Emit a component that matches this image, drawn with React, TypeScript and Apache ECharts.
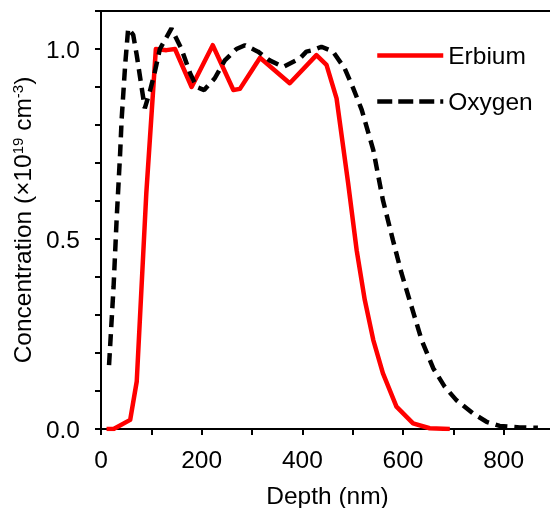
import React, { useEffect, useRef } from "react";
import * as echarts from "echarts";

const erbiumDepth = [11, 25, 58, 71, 90, 109, 130, 147, 180, 222, 263, 276, 316, 375, 428, 448, 468, 491, 508, 524, 541, 560, 587, 620, 653, 693];
const erbiumConc = [0, 0, 0.024, 0.125, 0.62, 1.0, 0.997, 1.0, 0.9, 1.01, 0.892, 0.895, 0.977, 0.91, 0.984, 0.958, 0.87, 0.647, 0.47, 0.34, 0.234, 0.147, 0.059, 0.015, 0.002, 0];

const oxygenDepth = [16, 25, 31, 38, 41, 48, 54, 64, 71, 87, 97, 107, 117, 140, 160, 177, 190, 205, 226, 246, 269, 286, 312, 335, 362, 395, 408, 421, 438, 461, 484, 501, 518, 541, 560, 580, 597, 617, 637, 660, 683, 706, 739, 766, 792, 832, 868];
const oxygenConc = [0.168, 0.375, 0.55, 0.725, 0.815, 0.958, 1.054, 1.037, 0.984, 0.844, 0.888, 0.94, 1.0, 1.054, 1.0, 0.936, 0.9, 0.892, 0.923, 0.97, 1.0, 1.01, 0.993, 0.97, 0.953, 0.975, 0.993, 0.997, 1.006, 0.993, 0.949, 0.897, 0.84, 0.734, 0.603, 0.497, 0.41, 0.322, 0.234, 0.16, 0.111, 0.076, 0.041, 0.019, 0.008, 0.004, 0.003];

const seriesNames = ["Erbium", "Oxygen"];
const xTitle = "Depth (nm)";
const yTitle = "Concentration (×10{sup|19} cm{sup|-3})";

const FONT = "'Liberation Sans', Arial, sans-serif";

export default function App() {
  const ref = useRef<HTMLDivElement>(null);
  useEffect(() => {
    if (!ref.current) return;
    const chart = echarts.init(ref.current, null, { renderer: "svg" });
    const zip = (xs: number[], ys: number[]) => xs.map((x, i) => [x, ys[i]]);
    chart.setOption({
      animation: false,
      textStyle: { fontFamily: FONT },
      grid: {
        left: 101,
        top: 11,
        right: -4,
        bottom: 79,
        outerBoundsMode: "none",
        containLabel: false,
        show: true,
        borderColor: "#000",
        borderWidth: 2,
      },
      legend: {
        orient: "vertical",
        left: 370,
        top: 38,
        itemWidth: 66,
        itemHeight: 14,
        itemGap: 21,
        itemStyle: { opacity: 0 },
        lineStyle: { width: 4.5 },
        textStyle: { fontSize: 24.5, color: "#000", fontFamily: FONT, lineHeight: 24 },
        data: [
          { name: seriesNames[0] },
          { name: seriesNames[1], lineStyle: { width: 4.5, type: [15, 6] } },
        ],
      },
      xAxis: {
        type: "value",
        min: 0,
        max: 900,
        interval: 100,
        name: xTitle,
        nameLocation: "middle",
        nameGap: 54,
        nameTextStyle: { fontSize: 24.5, color: "#000", fontFamily: FONT },
        axisLine: { lineStyle: { color: "#000", width: 2 } },
        axisTick: { length: 6, lineStyle: { color: "#000", width: 2 } },
        axisLabel: {
          fontSize: 24.5,
          color: "#000",
          fontFamily: FONT,
          margin: 18,
          formatter: (v: number) => (Math.round(v) % 200 === 0 ? String(Math.round(v)) : ""),
        },
        splitLine: { show: false },
      },
      yAxis: {
        type: "value",
        min: 0,
        max: 1.1,
        interval: 0.1,
        name: yTitle,
        nameLocation: "middle",
        nameGap: 60,
        nameTextStyle: {
          fontSize: 24.5,
          color: "#000",
          fontFamily: FONT,
          rich: {
            sup: { fontSize: 15, verticalAlign: "top", color: "#000", fontFamily: FONT, padding: [0, 0, 10, 0] },
          },
        },
        axisLine: { show: true, lineStyle: { color: "#000", width: 2 } },
        axisTick: { show: true, length: 6, lineStyle: { color: "#000", width: 2 } },
        axisLabel: {
          fontSize: 24.5,
          color: "#000",
          fontFamily: FONT,
          margin: 21,
          formatter: (v: number) => {
            const r = Math.round(v * 10);
            return r % 5 === 0 ? (r / 10).toFixed(1) : "";
          },
        },
        splitLine: { show: false },
      },
      series: [
        {
          name: seriesNames[0],
          type: "line",
          data: zip(erbiumDepth, erbiumConc),
          showSymbol: false,
          symbol: "none",
          lineStyle: { color: "#ff0000", width: 4.5, join: "round" },
          itemStyle: { color: "#ff0000" },
        },
        {
          name: seriesNames[1],
          type: "line",
          data: zip(oxygenDepth, oxygenConc),
          showSymbol: false,
          symbol: "none",
          lineStyle: { color: "#000", width: 4.5, type: [12, 7] },
          itemStyle: { color: "#000" },
        },
      ],
    });
    return () => chart.dispose();
  }, []);
  return <div ref={ref} style={{ position: "fixed", left: 0, top: 0, width: 550, height: 508 }} />;
}
